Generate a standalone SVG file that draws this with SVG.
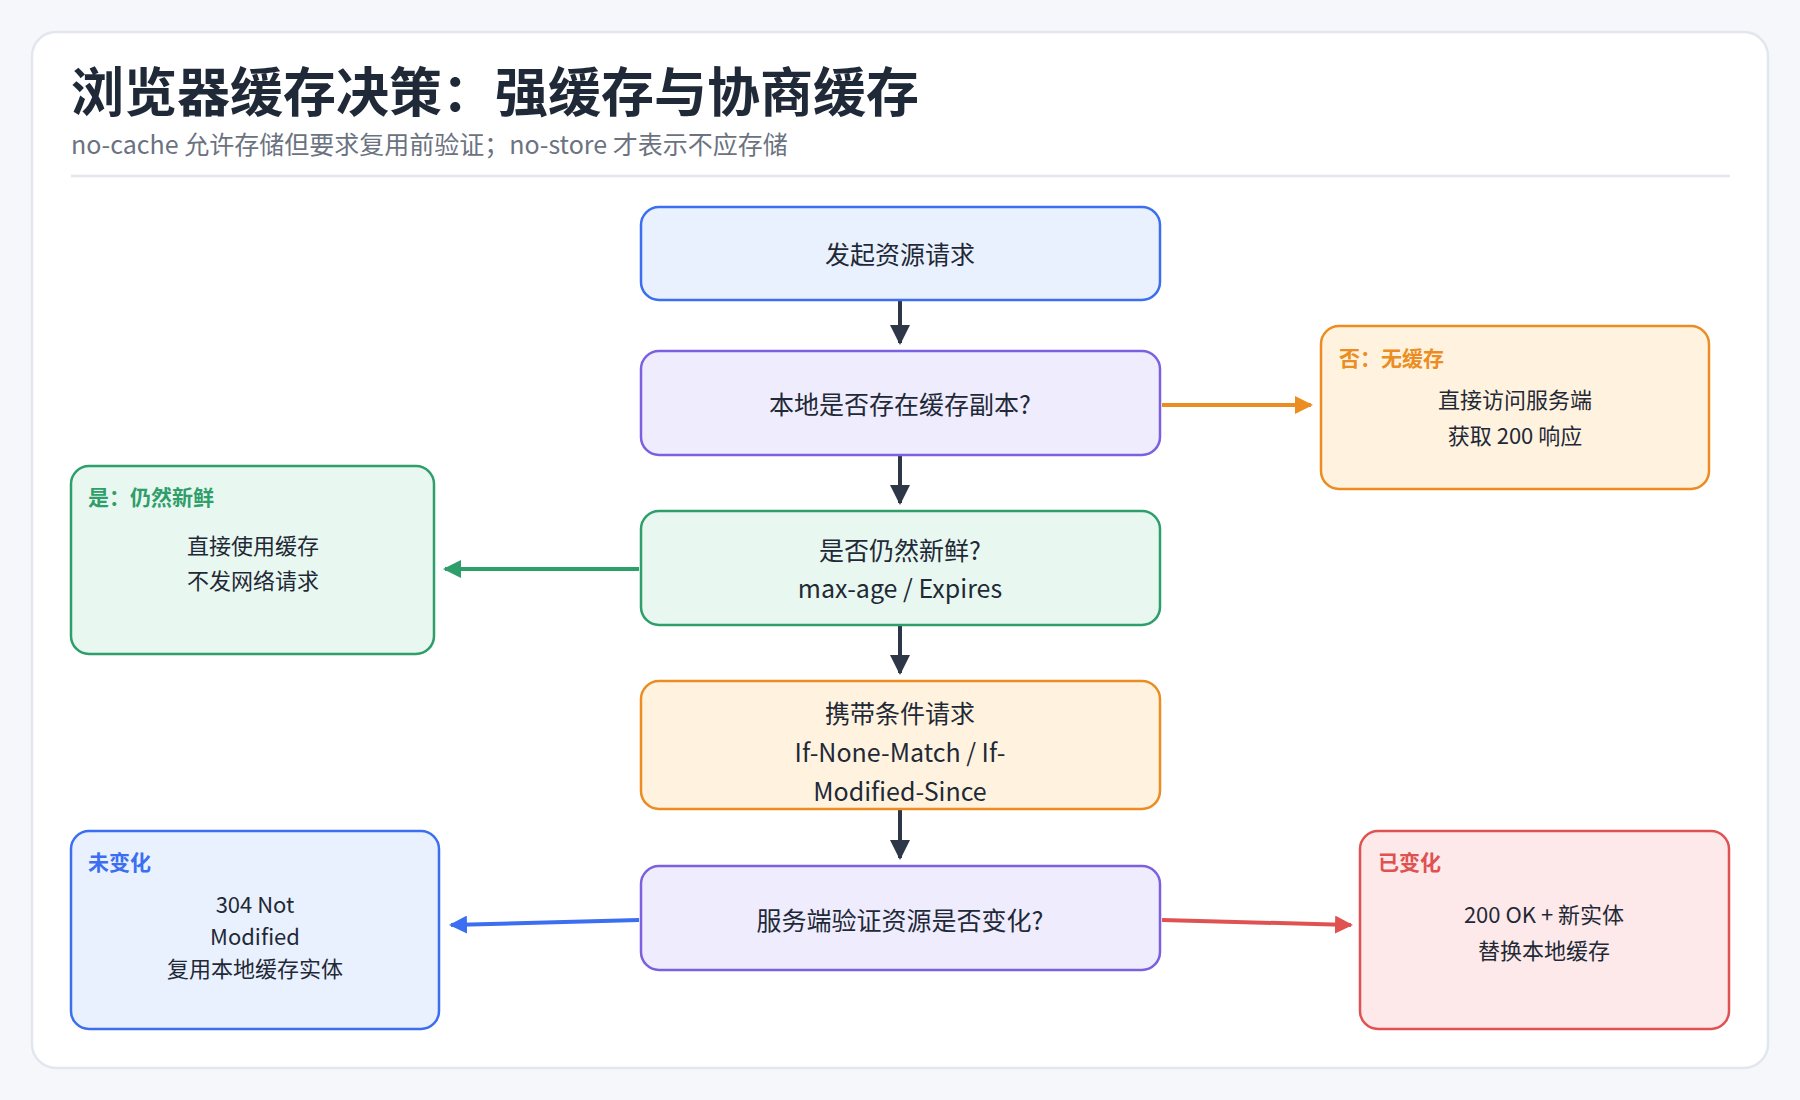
<svg xmlns="http://www.w3.org/2000/svg" width="1800" height="1100" viewBox="0 0 1800 1100">
<defs>
<style>
text{font-family:"Noto Sans CJK SC","Noto Sans",sans-serif;fill:#1f2937}
.t{font-size:25px;text-anchor:middle}
.s{font-size:22px;text-anchor:middle}
.h{font-size:21px;font-weight:700}
.n{stroke-width:2.5}
</style>
<marker id="ao" markerWidth="18" markerHeight="18" refX="16" refY="9" orient="auto" markerUnits="userSpaceOnUse"><path d="M0,0L18,9L0,18z" fill="#eb8d22"/></marker>
<marker id="ag" markerWidth="18" markerHeight="18" refX="16" refY="9" orient="auto" markerUnits="userSpaceOnUse"><path d="M0,0L18,9L0,18z" fill="#2e9e6a"/></marker>
<marker id="ab" markerWidth="18" markerHeight="18" refX="16" refY="9" orient="auto" markerUnits="userSpaceOnUse"><path d="M0,0L18,9L0,18z" fill="#3b6ef0"/></marker>
<marker id="ar" markerWidth="18" markerHeight="18" refX="16" refY="9" orient="auto" markerUnits="userSpaceOnUse"><path d="M0,0L18,9L0,18z" fill="#e05252"/></marker>
<marker id="av" markerWidth="20" markerHeight="20" refX="18" refY="10" orient="auto" markerUnits="userSpaceOnUse"><path d="M0,0L20,10L0,20z" fill="#2d3748"/></marker>
</defs>
<rect width="1800" height="1100" fill="#f5f7fb"/>
<rect x="32" y="32" width="1736" height="1036" rx="24" fill="#fff" stroke="#e2e6ee" stroke-width="2.5"/>
<text x="71" y="112" style="font-size:53px;font-weight:700">浏览器缓存决策：强缓存与协商缓存</text>
<text x="71" y="154" style="font-size:25px;fill:#6b7280">no-cache 允许存储但要求复用前验证；no-store 才表示不应存储</text>
<line x1="71" y1="176" x2="1730" y2="176" stroke="#e2e6ee" stroke-width="2.5"/>
<g id="connectors" fill="none" stroke-width="4">
<line x1="900" y1="300" x2="900" y2="343" stroke="#2d3748" marker-end="url(#av)"/>
<line x1="900" y1="455" x2="900" y2="503" stroke="#2d3748" marker-end="url(#av)"/>
<line x1="900" y1="625" x2="900" y2="673" stroke="#2d3748" marker-end="url(#av)"/>
<line x1="900" y1="809" x2="900" y2="858" stroke="#2d3748" marker-end="url(#av)"/>
<line x1="1162" y1="405" x2="1311" y2="405" stroke="#eb8d22" marker-end="url(#ao)"/>
<line x1="639" y1="569" x2="445" y2="569" stroke="#2e9e6a" marker-end="url(#ag)"/>
<line x1="639" y1="920" x2="451" y2="925" stroke="#3b6ef0" marker-end="url(#ab)"/>
<line x1="1162" y1="920" x2="1351" y2="925" stroke="#e05252" marker-end="url(#ar)"/>
</g>
<g id="n1"><rect class="n" x="641" y="207" width="519" height="93" rx="18" fill="#eaf1fe" stroke="#3b6ef0"/><text class="t" x="900" y="264">发起资源请求</text></g>
<g id="n2"><rect class="n" x="641" y="351" width="519" height="104" rx="18" fill="#efedfd" stroke="#7b61e0"/><text class="t" x="900" y="414">本地是否存在缓存副本?</text></g>
<g id="n3"><rect class="n" x="641" y="511" width="519" height="114" rx="18" fill="#e8f7ef" stroke="#2e9e6a"/><text class="t" x="900" y="560">是否仍然新鲜?</text><text class="t" x="900" y="598">max-age / Expires</text></g>
<g id="n4"><rect class="n" x="641" y="681" width="519" height="128" rx="18" fill="#fff3df" stroke="#eb8d22"/><text class="t" x="900" y="723">携带条件请求</text><text class="t" x="900" y="762">If-None-Match / If-</text><text class="t" x="900" y="801">Modified-Since</text></g>
<g id="n5"><rect class="n" x="641" y="866" width="519" height="104" rx="18" fill="#efedfd" stroke="#7b61e0"/><text class="t" x="900" y="930">服务端验证资源是否变化?</text></g>
<g id="nocache"><rect class="n" x="1321" y="326" width="388" height="163" rx="18" fill="#fff3df" stroke="#eb8d22"/><text class="h" x="1339" y="366" style="fill:#eb8d22">否：无缓存</text><text class="s" x="1515" y="408">直接访问服务端</text><text class="s" x="1515" y="444">获取 200 响应</text></g>
<g id="fresh"><rect class="n" x="71" y="466" width="363" height="188" rx="18" fill="#e8f7ef" stroke="#2e9e6a"/><text class="h" x="88" y="505" style="fill:#2e9e6a">是：仍然新鲜</text><text class="s" x="253" y="554">直接使用缓存</text><text class="s" x="253" y="589">不发网络请求</text></g>
<g id="unchanged"><rect class="n" x="71" y="831" width="368" height="198" rx="18" fill="#eaf1fe" stroke="#3b6ef0"/><text class="h" x="88" y="870" style="fill:#3b6ef0">未变化</text><text class="s" x="255" y="913">304 Not</text><text class="s" x="255" y="945">Modified</text><text class="s" x="255" y="977">复用本地缓存实体</text></g>
<g id="changed"><rect class="n" x="1360" y="831" width="369" height="198" rx="18" fill="#fde9e9" stroke="#e05252"/><text class="h" x="1378" y="870" style="fill:#e05252">已变化</text><text class="s" x="1544" y="923">200 OK + 新实体</text><text class="s" x="1544" y="959">替换本地缓存</text></g>
</svg>
